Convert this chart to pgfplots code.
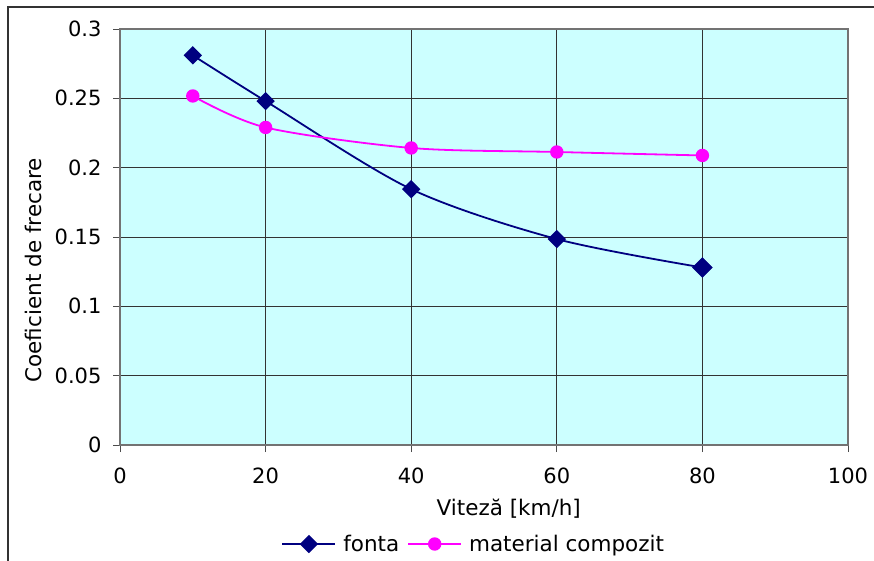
\documentclass[border=0pt]{standalone}
\usepackage{fontspec}
\setmainfont{DejaVu Sans}
\usepackage{pgfplots}
\pgfplotsset{compat=1.18}
\definecolor{bgcyan}{HTML}{CCFFFF}
\definecolor{navyc}{HTML}{000080}
\definecolor{magc}{HTML}{FF00FF}
\begin{document}
\begin{tikzpicture}[x=1pt,y=1pt]
\path[use as bounding box] (0,0) rectangle (874,561);
\draw[line width=1.2pt,black!80] (8,0) -- (8,554) -- (874,554);
\begin{axis}[
  at={(120pt,116pt)}, anchor=south west,
  scale only axis, width=728pt, height=416pt,
  xmin=0, xmax=100, ymin=0, ymax=0.3,
  xtick={0,20,...,100}, ytick={0,0.05,...,0.3},
  yticklabels={0,0.05,0.1,0.15,0.2,0.25,0.3},
  xmajorgrids, ymajorgrids,
  grid style={black!80, line width=0.8pt},
  axis background/.style={fill=bgcyan},
  axis line style={gray!90!black, line width=1.6pt},
  tick align=outside, tick pos=left,
  major tick length=7pt,
  tick style={black!70, line width=0.8pt},
  /pgf/number format/assume math mode=true,
  ticklabel style={font=\fontsize{21}{24}\selectfont},
  yticklabel style={/pgf/number format/fixed, xshift=-8pt},
  xticklabel style={yshift=-12pt},
  xlabel={Viteză [km/h]},
  ylabel={Coeficient de frecare},
  label style={font=\fontsize{21.5}{24}\selectfont},
  xlabel style={at={(axis description cs:0.534,-0.152)}, anchor=center},
  ylabel style={at={(axis description cs:-0.1195,0.42)}, anchor=center, rotate=0},
  legend columns=2,
  legend style={at={(axis description cs:0.486,-0.238)}, anchor=center, draw=none, fill=none,
    font=\fontsize{21.5}{24}\selectfont,
    /tikz/every odd column/.append style={column sep=5pt},
    /tikz/every even column/.append style={column sep=6pt}},
  legend image code/.code={\draw[#1] (0pt,0pt) -- (53pt,0pt); \path[#1] plot coordinates {(26.5pt,0pt)};},
]
\addplot[navyc, line width=1.8pt, smooth, tension=0.5, mark=square*, mark size=5.6pt, mark options={solid, fill=navyc, rotate=45}]
  coordinates {(10,0.281) (20,0.248) (40,0.1845) (60,0.1485) (80,0.128)};
\addlegendentry{fonta}
\addplot[magc, line width=1.8pt, smooth, tension=0.5, mark=*, mark size=5.8pt, mark options={solid, fill=magc}]
  coordinates {(10,0.2517) (20,0.2290) (40,0.2142) (60,0.2113) (80,0.2088)};
\addlegendentry{material compozit}
\addplot[navyc, only marks, mark=square*, mark size=7pt, mark options={fill=navyc, rotate=45}, forget plot]
  coordinates {(80,0.128)};
\end{axis}
\end{tikzpicture}
\end{document}
